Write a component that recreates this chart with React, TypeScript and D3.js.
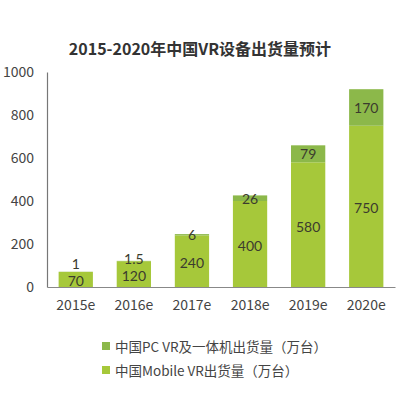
import React, { useEffect, useRef } from 'react'
import * as d3 from 'd3'

const years = ['2015e', '2016e', '2017e', '2018e', '2019e', '2020e']
const mobileValues = [70, 120, 240, 400, 580, 750]
const pcValues = [1, 1.5, 6, 26, 79, 170]
const yTicks = [0, 200, 400, 600, 800, 1000]
const seriesNames = ['中国PC VR及一体机出货量（万台）', '中国Mobile VR出货量（万台）']

const W = 408
const H = 393
const margin = { top: 72, right: 13, bottom: 106, left: 47 }
const MOBILE = '#a6c83a'
const PC = '#8cb84a'
const FONT = '"Noto Sans CJK SC", "Open Sans", sans-serif'
const NUM_FONT = 'Lato, "Open Sans", sans-serif'

const App: React.FC = () => {
  const svgRef = useRef<SVGSVGElement>(null)

  useEffect(() => {
    if (!svgRef.current) return
    const svg = d3.select(svgRef.current)
    svg.selectAll('*').remove()

    const chartW = W - margin.left - margin.right
    const chartH = H - margin.top - margin.bottom

    const x = d3.scaleBand().domain(years).range([0, chartW]).paddingInner(0.41).paddingOuter(0.2)
    const y = d3.scaleLinear().domain([0, 1000]).range([chartH, 0])

    svg.append('rect').attr('width', W).attr('height', H).attr('fill', '#fff')

    // Title
    svg
      .append('text')
      .attr('x', 200)
      .attr('y', 55)
      .attr('text-anchor', 'middle')
      .attr('font-family', FONT)
      .attr('font-weight', 'bold')
      .attr('font-size', 16)
      .attr('fill', '#333')
      .text('2015-2020年中国VR设备出货量预计')

    const g = svg.append('g').attr('transform', `translate(${margin.left},${margin.top})`)

    // Y axis
    const yAxis = g
      .append('g')
      .call(d3.axisLeft(y).tickValues(yTicks).tickFormat(d3.format('d')).tickSize(0).tickPadding(13))
    yAxis.select('.domain').attr('stroke', '#777').attr('stroke-width', 1.2)
    yAxis
      .selectAll('text')
      .attr('font-family', FONT)
      .attr('font-size', 14)
      .attr('fill', '#444')

    // X axis
    const xAxis = g
      .append('g')
      .attr('transform', `translate(0,${chartH})`)
      .call(d3.axisBottom(x).tickSize(0).tickPadding(13))
    xAxis.select('.domain').attr('stroke', '#888').attr('stroke-width', 1)
    xAxis
      .selectAll('text')
      .attr('font-family', FONT)
      .attr('font-size', 14)
      .attr('fill', '#444')

    const data = years.map((yr, i) => ({ yr, mobile: mobileValues[i], pc: pcValues[i] }))

    // Mobile bars
    g.selectAll('.mobile')
      .data(data)
      .enter()
      .append('rect')
      .attr('x', (d) => x(d.yr) || 0)
      .attr('y', (d) => y(d.mobile))
      .attr('width', x.bandwidth())
      .attr('height', (d) => chartH - y(d.mobile))
      .attr('fill', MOBILE)

    // PC bars
    g.selectAll('.pc')
      .data(data)
      .enter()
      .append('rect')
      .attr('x', (d) => x(d.yr) || 0)
      .attr('y', (d) => y(d.mobile + d.pc))
      .attr('width', x.bandwidth())
      .attr('height', (d) => y(d.mobile) - y(d.mobile + d.pc))
      .attr('fill', PC)

    const labelStyle = (sel: d3.Selection<SVGTextElement, any, any, any>) =>
      sel
        .attr('text-anchor', 'middle')
        .attr('dominant-baseline', 'central')
        .attr('font-family', NUM_FONT)
        .attr('font-size', 14)
        .attr('fill', '#3b3b2e')

    // Mobile labels
    g.selectAll('.mlabel')
      .data(data)
      .enter()
      .append('text')
      .attr('x', (d) => (x(d.yr) || 0) + x.bandwidth() / 2)
      .attr('y', (d) => y(d.mobile / 2) + 1.5)
      .text((d) => d.mobile)
      .call(labelStyle)

    // PC labels
    g.selectAll('.plabel')
      .data(data)
      .enter()
      .append('text')
      .attr('x', (d) => (x(d.yr) || 0) + x.bandwidth() / 2)
      .attr('y', (d) => Math.min(y(d.mobile + d.pc / 2), y(d.mobile / 2) - 16))
      .text((d) => d.pc)
      .call(labelStyle)

    // Legend
    const legend = svg.append('g').attr('transform', 'translate(102,346)')
    const colors = [PC, MOBILE]
    seriesNames.forEach((name, i) => {
      const row = legend.append('g').attr('transform', `translate(0,${i * 24})`)
      row.append('rect').attr('x', 0).attr('y', -4).attr('width', 8).attr('height', 8).attr('fill', colors[i])
      row
        .append('text')
        .attr('x', 13)
        .attr('y', 0)
        .attr('dominant-baseline', 'central')
        .attr('font-family', FONT)
        .attr('font-size', 13.5)
        .attr('fill', '#444')
        .text(name)
    })
  }, [])

  return (
    <svg
      ref={svgRef}
      width={W}
      height={H}
      style={{ position: 'absolute', left: 0, top: 0, display: 'block' }}
    />
  )
}

export default App
